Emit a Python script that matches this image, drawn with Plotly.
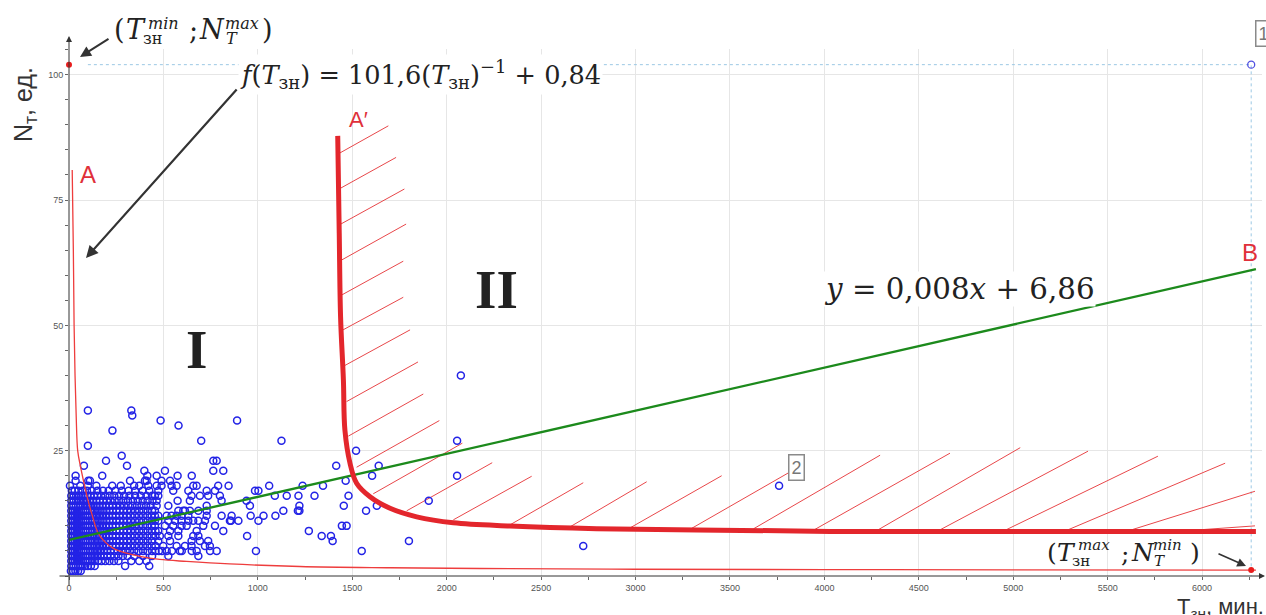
import plotly.graph_objects as go

# ---------------- data ----------------
# scatter points, grouped by N (units) -> list of T (minutes)
t_at_n01 = [10, 22, 34, 48, 62]
t_at_n02 = [12, 24, 36, 48, 60, 72, 86, 100, 116, 136, 297, 425]
t_at_n03 = [12, 22, 32, 42, 52, 62, 74, 86, 98, 110, 124, 138, 154, 172, 192, 214, 238, 262, 330, 372, 410]
t_at_n04 = [12, 22, 32, 42, 52, 62, 74, 86, 98, 110, 124, 138, 152, 168, 184, 202, 220, 240, 262, 285, 310,
            345, 392, 440, 526, 685]
t_at_n05 = [12, 22, 32, 42, 52, 64, 76, 88, 100, 112, 126, 140, 155, 170, 186, 202, 220, 238, 258, 278, 300,
            322, 345, 368, 392, 416, 440, 458, 476, 492, 517, 545, 587, 597, 650, 676, 747, 782, 990, 1550]
t_at_n06 = [12, 22, 32, 42, 52, 62, 74, 86, 98, 110, 122, 136, 150, 165, 180, 196, 212, 230, 248, 266, 286,
            306, 326, 348, 370, 392, 415, 438, 458, 499, 570, 614, 649, 720, 746, 2723]
t_at_n07 = [12, 22, 32, 42, 52, 63, 75, 87, 99, 111, 124, 138, 152, 167, 182, 198, 214, 232, 250, 268, 288,
            308, 328, 350, 372, 394, 417, 440, 473, 535, 649, 693, 737, 1396, 1800]
t_at_n08 = [12, 22, 32, 42, 52, 62, 74, 86, 98, 110, 122, 136, 150, 165, 180, 196, 212, 230, 248, 266, 286,
            306, 326, 348, 370, 392, 415, 438, 458, 481, 526, 579, 658, 685, 943, 1338, 1387]
t_at_n09 = [12, 22, 32, 42, 52, 63, 75, 87, 99, 111, 124, 138, 152, 167, 182, 198, 214, 232, 250, 268, 288,
            308, 328, 350, 372, 394, 417, 440, 458, 473, 535, 579, 676, 817, 1270]
t_at_n10 = [12, 22, 32, 42, 52, 62, 74, 86, 98, 110, 122, 136, 150, 165, 180, 196, 212, 230, 248, 266, 286,
            306, 326, 348, 370, 392, 415, 438, 455, 508, 552, 596, 623, 711, 773, 1445, 1470]
t_at_n11 = [12, 22, 32, 42, 52, 63, 75, 87, 99, 111, 124, 138, 152, 167, 182, 198, 214, 232, 250, 268, 288,
            308, 328, 350, 372, 394, 417, 440, 455, 473, 526, 561, 596, 632, 658, 685, 720, 852, 858, 897, 1003]
t_at_n12 = [12, 22, 32, 42, 52, 62, 74, 86, 98, 110, 122, 136, 150, 165, 180, 196, 212, 230, 248, 266, 286,
            306, 326, 348, 370, 392, 415, 438, 455, 473, 517, 543, 570, 596, 632, 729, 808, 861, 962, 1030, 1093]
t_at_n13 = [12, 22, 32, 42, 52, 63, 75, 87, 99, 111, 124, 138, 152, 167, 182, 198, 214, 232, 250, 268, 288,
            308, 328, 350, 372, 394, 417, 440, 455, 579, 605, 614, 640, 685, 729, 1135, 1212, 1220, 1573]
t_at_n14 = [12, 24, 36, 48, 60, 74, 88, 102, 116, 130, 146, 162, 178, 195, 212, 230, 250, 270, 292, 314,
            336, 360, 384, 408, 432, 464, 526, 729, 958, 1220, 1455, 1630]
t_at_n15 = [12, 25, 38, 52, 66, 80, 96, 112, 128, 145, 162, 180, 200, 220, 242, 264, 288, 312, 338, 364,
            390, 416, 442, 464, 575, 640, 808, 940, 1905]
t_at_n16 = [12, 25, 38, 52, 66, 82, 98, 115, 132, 150, 170, 192, 215, 240, 265, 292, 320, 350, 380, 410,
            440, 455, 473, 649, 693, 737, 799, 1090, 1153, 1215, 1300, 1480]
t_at_n17 = [15, 30, 50, 72, 95, 120, 150, 180, 210, 245, 280, 315, 350, 390, 425, 473, 552, 632, 729, 773,
            985, 1003]
t_at_n18 = [5, 60, 100, 145, 229, 274, 345, 372, 420, 464, 490, 543, 570, 658, 676, 790, 845, 1060, 1237,
            1345, 3760]
t_at_n19 = [35, 102, 111, 323, 402, 411, 490, 535, 1465]
t_at_n20 = [35, 176, 415, 464, 575, 650, 1605, 2055]
t_at_n21 = [399, 508, 764, 817]
t_at_n22 = [79, 307, 1415, 1640]
t_at_n23 = [196, 764, 782]
t_at_n24 = [279]
t_at_n25 = [1520]
t_at_n26 = [100]
t_at_n27 = [700, 1125, 2055]
t_at_n29 = [230]
t_at_n30 = [580]
t_at_n31 = [485, 890]
t_at_n32 = [335]
t_at_n33 = [100, 330]
t_at_n40 = [2075]

# extreme point "1" and the two red marked points
extreme_t = [6260]
extreme_n = [102]
red_pts_t = [0, 6260]
red_pts_n = [102, 1.2]

# thin red hyperbola A (f(T) = 101,6/T + 0,84 as drawn)
curve_a_t = [17, 23, 27, 32, 38, 46, 60, 76, 98, 120, 155, 190, 235, 300, 376, 480, 623, 850, 1223, 1700,
             2176, 3000, 4000, 5000, 6285]
curve_a_n = [81, 65, 50, 40, 32, 25, 22, 19.1, 15.5, 12.5, 8.5, 6.8, 5.5, 4.6, 3.9, 3.3, 2.9, 2.4, 1.9, 1.65,
             1.5, 1.35, 1.28, 1.22, 1.18]

# thick boundary curve A'
bound_t = [1423, 1431, 1438, 1453, 1461, 1488, 1523, 1594, 1700, 1841, 2035, 2335, 2794, 3324, 4030, 5000, 6285]
bound_n = [87.8, 68.4, 51.7, 39.1, 29.1, 22.5, 18.5, 15.8, 13.5, 11.8, 10.6, 9.97, 9.44, 9.2, 8.9, 8.9, 8.9]

# regression line y = 0,008x + 6,86 (as drawn)
trend_t = [0, 6285]
trend_n = [7.2, 61.2]

# guide lines to the extreme point
guide_t = [100, 6260, 6260]
guide_n = [102, 102, 0]

# hatch segments (start T, start N, end T, end N)
hatch_t0 = [1435, 1435, 1439, 1442, 1446, 1451, 1456, 1470, 1479, 1523, 1611, 1788, 2035, 2335, 2653, 2971,
            3297, 3624, 3950, 4284, 4612, 4956, 5283, 5617, 5945]
hatch_n0 = [84.4, 77.3, 70.2, 63.0, 56.1, 49.1, 41.9, 34.8, 27.9, 21.7, 16.4, 13.0, 11.2, 10.2, 9.8, 9.6,
            9.5, 9.4, 9.3, 9.2, 9.2, 9.1, 9.1, 9.1, 9.1]
hatch_t1 = [1691, 1732, 1776, 1785, 1770, 1770, 1806, 1848, 1876, 1961, 2083, 2241, 2450, 2723, 3059, 3456,
            3880, 4295, 4665, 5037, 5396, 5766, 6122, 6280, 6280]
hatch_n1 = [89.8, 83.5, 77.2, 70.2, 62.8, 55.6, 49.1, 42.7, 36.3, 31.0, 26.5, 22.6, 19.9, 18.6, 18.8, 20.0,
            22.1, 24.1, 24.5, 25.6, 24.9, 23.9, 22.5, 16.9, 10.0]

x_ticks = [0, 500, 1000, 1500, 2000, 2500, 3000, 3500, 4000, 4500, 5000, 5500, 6000]
y_ticks = [25, 50, 75, 100]

# ---------------- geometry of plot area (pixels) ----------------
W, H = 1266, 615
L, R, TOP, BOT = 69, 1262, 49, 576
XMAX = (R - L) / 0.18885
YMAX = (BOT - TOP) / 5.013


def px(x):
    return (x - L) / (R - L)


def py(y):
    return (BOT - y) / (BOT - TOP)


rows = [(1, t_at_n01), (2, t_at_n02), (3, t_at_n03), (4, t_at_n04), (5, t_at_n05), (6, t_at_n06),
        (7, t_at_n07), (8, t_at_n08), (9, t_at_n09), (10, t_at_n10), (11, t_at_n11), (12, t_at_n12),
        (13, t_at_n13), (14, t_at_n14), (15, t_at_n15), (16, t_at_n16), (17, t_at_n17), (18, t_at_n18),
        (19, t_at_n19), (20, t_at_n20), (21, t_at_n21), (22, t_at_n22), (23, t_at_n23), (24, t_at_n24),
        (25, t_at_n25), (26, t_at_n26), (27, t_at_n27), (29, t_at_n29), (30, t_at_n30), (31, t_at_n31),
        (32, t_at_n32), (33, t_at_n33), (40, t_at_n40)]
sc_t, sc_n = [], []
for n, ts in rows:
    for t in ts:
        sc_t.append(t)
        sc_n.append(n)

hx, hy = [], []
for a, b, c, d in zip(hatch_t0, hatch_n0, hatch_t1, hatch_n1):
    hx += [a, c, None]
    hy += [b, d, None]

RED = '#e3262c'
BLUE = 'rgb(35,35,230)'
fig = go.Figure()

fig.add_trace(go.Scatter(x=guide_t, y=guide_n, mode='lines',
                         line=dict(color='#9cc8e4', width=1, dash='dot'), hoverinfo='skip'))
fig.add_trace(go.Scatter(x=hx, y=hy, mode='lines', line=dict(color='#e8474a', width=1), hoverinfo='skip'))
fig.add_trace(go.Scatter(x=sc_t, y=sc_n, mode='markers', cliponaxis=False,
                         marker=dict(symbol='circle-open', size=7, color=BLUE,
                                     line=dict(width=1.5, color=BLUE))))
fig.add_trace(go.Scatter(x=extreme_t, y=extreme_n, mode='markers', cliponaxis=False,
                         marker=dict(symbol='circle-open', size=7, color='rgb(80,80,225)',
                                     line=dict(width=1.3, color='rgb(80,80,225)'))))
fig.add_trace(go.Scatter(x=curve_a_t, y=curve_a_n, mode='lines', line=dict(color='#ee3d3d', width=1.3),
                         line_shape='spline', hoverinfo='skip'))
fig.add_trace(go.Scatter(x=trend_t, y=trend_n, mode='lines', line=dict(color='#1c8a1c', width=2.3)))
fig.add_trace(go.Scatter(x=bound_t, y=bound_n, mode='lines', line=dict(color=RED, width=5),
                         line_shape='spline', hoverinfo='skip'))
fig.add_trace(go.Scatter(x=red_pts_t, y=red_pts_n, mode='markers', cliponaxis=False,
                         marker=dict(size=6, color='#e81c1c')))

ann = []
# axes with arrowheads
ann.append(dict(x=px(1265), y=py(BOT), xref='paper', yref='paper', ax=-(1265 - 58), ay=0, text='',
                showarrow=True, arrowhead=2, arrowsize=1.2, arrowwidth=1, arrowcolor='#333'))
ann.append(dict(x=px(L), y=py(36), xref='paper', yref='paper', ax=0, ay=587 - 36, text='',
                showarrow=True, arrowhead=2, arrowsize=1.2, arrowwidth=1, arrowcolor='#333'))

MATH = 'DejaVu Serif'
INK = '#222222'


def piece(text, xl, yc, size, family=MATH, color=INK):
    ann.append(dict(text=text, x=px(xl), y=py(yc), xref='paper', yref='paper', xanchor='left',
                    yanchor='middle', showarrow=False, font=dict(family=family, size=size, color=color)))


def centred(text, xc, yc, font, **kw):
    d = dict(text=text, x=px(xc), y=py(yc), xref='paper', yref='paper', xanchor='center',
             yanchor='middle', showarrow=False, font=font)
    d.update(kw)
    ann.append(d)


# (T_зн^min; N_T^max)
piece('(', 112, 30, 27)
piece('<i>T</i>', 124, 30, 27)
piece('<i>min</i>', 146, 23, 16)
piece('зн', 141, 39, 16)
piece(';', 187, 31, 27)
piece('<i>N</i>', 197, 30, 27)
piece('<i>max</i>', 223, 23, 16)
piece('<i>T</i>', 224, 39, 16)
piece(')', 260, 30, 27)

# (T_зн^max; N_T^min)
piece('(', 1045, 552, 25)
piece('<i>T</i>', 1055, 552, 25)
piece('<i>max</i>', 1076, 545, 15)
piece('зн', 1070, 561, 15)
piece(';', 1119, 553, 25)
piece('<i>N</i>', 1129, 552, 25)
piece('<i>min</i>', 1151, 545, 15)
piece('<i>T</i>', 1152, 561, 15)
piece(')', 1188, 552, 25)

# formulas
ann.append(dict(text='<i>f</i>(<i>T</i><sub>зн</sub>) = 101,6(<i>T</i><sub>зн</sub>)<sup>−1</sup> + 0,84',
                x=px(238), y=py(75), xref='paper', yref='paper', xanchor='left', yanchor='middle',
                showarrow=False, bgcolor='white', font=dict(family=MATH, size=25.6, color=INK)))
ann.append(dict(text='<i>y</i> = 0,008<i>x</i> + 6,86', x=px(823), y=py(289), xref='paper', yref='paper',
                xanchor='left', yanchor='middle', showarrow=False, bgcolor='white', borderpad=0,
                font=dict(family=MATH, size=29.3, color=INK)))

# arrows
ann.append(dict(x=px(86), y=py(258), xref='paper', yref='paper', ax=152, ay=-170, text='', showarrow=True,
                arrowhead=2, arrowsize=1.1, arrowwidth=2.2, arrowcolor='#333'))
ann.append(dict(x=px(80), y=py(57), xref='paper', yref='paper', ax=30, ay=-19, text='', showarrow=True,
                arrowhead=2, arrowsize=1.1, arrowwidth=2, arrowcolor='#333'))
ann.append(dict(x=px(1246), y=py(566), xref='paper', yref='paper', ax=-29, ay=-13, text='', showarrow=True,
                arrowhead=2, arrowsize=1.1, arrowwidth=1.6, arrowcolor='#333'))

# region labels
for txt, xc, yc in [('I', 196, 349), ('II', 496, 289)]:
    centred('<b>' + txt + '</b>', xc, yc, dict(family='Liberation Serif', size=55, color=INK))
for txt, xc, yc, sz in [('A', 88, 174, 24), ('A′', 358, 119, 22), ('B', 1250, 252, 24)]:
    centred(txt, xc, yc, dict(family='Liberation Sans', size=sz, color='#e0303a'))

# boxed point labels
for txt, xc, yc in [('1', 1263, 34), ('2', 796, 467)]:
    centred(txt, xc, yc, dict(family='Liberation Sans', size=18, color='#777'),
            bgcolor='white', bordercolor='#8a8a8a', borderwidth=1.5, borderpad=2)

# axis titles
centred('N<sub>т</sub>, ед.', 25, 105, dict(family='Liberation Sans', size=25, color='#333'), textangle=-90)
ann.append(dict(text='T<sub>зн</sub>, мин.', x=px(1175), y=py(592), xref='paper', yref='paper',
                xanchor='left', yanchor='top', showarrow=False,
                font=dict(family='Liberation Sans', size=22, color='#333')))

fig.update_layout(
    width=W, height=H, plot_bgcolor='white', paper_bgcolor='white', showlegend=False,
    margin=dict(l=L, r=W - R, t=TOP, b=H - BOT),
    annotations=ann,
    xaxis=dict(range=[0, XMAX], tickvals=x_ticks, showgrid=True, gridcolor='#e6e6e6', gridwidth=1,
               zeroline=False, showline=False, ticks='outside', ticklen=3, tickcolor='#666',
               tickfont=dict(family='Liberation Sans', size=9, color='#555'),
               minor=dict(dtick=250, tick0=0, ticks='outside', ticklen=3, tickcolor='#666', showgrid=False)),
    yaxis=dict(range=[0, YMAX], tickvals=y_ticks, showgrid=True, gridcolor='#e6e6e6', gridwidth=1,
               zeroline=False, showline=False, ticks='outside', ticklen=3, tickcolor='#666',
               tickfont=dict(family='Liberation Sans', size=9, color='#555'),
               minor=dict(dtick=5, tick0=0, ticks='outside', ticklen=3, tickcolor='#666', showgrid=False)),
)

fig.write_html('out.html')
